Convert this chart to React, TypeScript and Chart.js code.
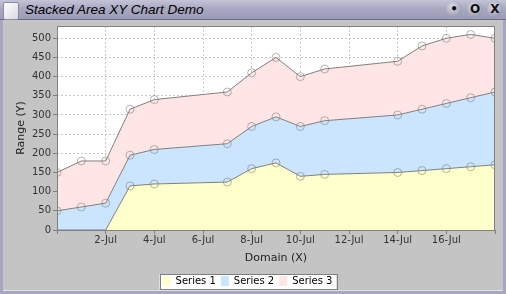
import React, { useEffect, useRef } from "react";
import { Chart, registerables } from "chart.js";

Chart.register(...registerables);

// x values: day of July (0 = 30-Jun)
const days = [0, 1, 2, 3, 4, 7, 8, 9, 10, 11, 14, 15, 16, 17, 18];
const series1 = [0, 0, 0, 115, 120, 125, 160, 175, 140, 145, 150, 155, 160, 165, 170];
const series2 = [50, 60, 70, 80, 90, 100, 110, 120, 130, 140, 150, 160, 170, 180, 190];
const series3 = [100, 120, 110, 120, 130, 135, 140, 155, 130, 135, 140, 165, 170, 165, 140];
const seriesNames = ["Series 1", "Series 2", "Series 3"];
const xTickDays = [2, 4, 6, 8, 10, 12, 14, 16];
const monthName = "Jul";
const windowTitle = "Stacked Area XY Chart Demo";
const xTitle = "Domain (X)";
const yTitle = "Range (Y)";

const fills = ["rgb(255,255,204)", "rgb(204,229,255)", "rgb(255,229,229)"];
const FONT = "'DejaVu Sans', sans-serif";

const plotFrame = {
  id: "plotFrame",
  beforeDraw(chart: any) {
    const { ctx, chartArea: a } = chart;
    ctx.save();
    ctx.fillStyle = "#ffffff";
    ctx.fillRect(a.left, a.top, a.right - a.left, a.bottom - a.top);
    // legend frame
    const hb = chart.legend && chart.legend.legendHitBoxes;
    if (hb && hb.length) {
      const l = Math.min(...hb.map((h: any) => h.left)) - 3;
      const r = Math.max(...hb.map((h: any) => h.left + h.width)) + 4;
      const t = Math.min(...hb.map((h: any) => h.top)) - 2;
      const b = Math.max(...hb.map((h: any) => h.top + h.height)) + 3;
      ctx.fillStyle = "#ffffff";
      ctx.fillRect(l, t, r - l, b - t);
      ctx.strokeStyle = "#808080";
      ctx.lineWidth = 1;
      ctx.strokeRect(Math.round(l) + 0.5, Math.round(t) + 0.5, Math.round(r - l), Math.round(b - t));
    }
    ctx.restore();
  },
  afterDraw(chart: any) {
    const { ctx, chartArea: a } = chart;
    ctx.save();
    ctx.strokeStyle = "#808080";
    ctx.lineWidth = 1;
    ctx.strokeRect(Math.round(a.left) + 0.5, Math.round(a.top) + 0.5, Math.round(a.right - a.left) - 1, Math.round(a.bottom - a.top));
    ctx.restore();
  },
};

function ChartView() {
  const ref = useRef<HTMLCanvasElement | null>(null);
  useEffect(() => {
    const canvas = ref.current;
    if (!canvas) return;
    const mk = (vals: number[]) => vals.map((v, i) => ({ x: days[i], y: v }));
    const allSeries = [series1, series2, series3];
    const chart = new Chart(canvas, {
      type: "line",
      data: {
        datasets: allSeries.map((s, i) => ({
          label: seriesNames[i],
          data: mk(s),
          backgroundColor: fills[i],
          borderColor: "#808080",
          borderWidth: 1,
          fill: i === 0 ? "origin" : "-1",
          tension: 0,
          pointRadius: (c: any) => (c.raw && c.raw.y === 0 ? 0 : 4),
          pointBackgroundColor: "rgba(0,0,0,0)",
          pointBorderColor: "rgba(120,120,120,0.55)",
          pointBorderWidth: 1,
        })),
      },
      options: {
        animation: false,
        responsive: false,
        maintainAspectRatio: false,
        events: [],
        layout: { padding: { top: 6, right: 11, bottom: 0, left: 0 } },
        plugins: {
          tooltip: { enabled: false },
          legend: {
            position: "bottom",
            labels: {
              font: { family: FONT, size: 10 },
              color: "#000",
              boxWidth: 8,
              boxHeight: 10,
              padding: 5,
              generateLabels: (ch: any) =>
                Chart.defaults.plugins.legend.labels.generateLabels(ch).map((it: any) => ({
                  ...it,
                  strokeStyle: it.fillStyle,
                  lineWidth: 0,
                })),
            },
          },
        },
        scales: {
          x: {
            type: "linear",
            min: 0,
            max: 18,
            afterFit: (s: any) => {
              s.height = 41;
            },
            ticks: {
              stepSize: 2,
              autoSkip: false,
              maxRotation: 0,
              padding: 0,
              font: { family: FONT, size: 10 },
              color: "#333",
              callback: (v: any) => (xTickDays.includes(Number(v)) ? `${v}-${monthName}` : ""),
            },
            grid: {
              color: "#c8c8c8",
              tickColor: "#808080",
              tickLength: 4,
              tickBorderDash: [],
            },
            border: { display: false, dash: [2, 2] },
            title: {
              display: true,
              text: xTitle,
              font: { family: FONT, size: 11 },
              color: "#222",
              padding: { top: 0, bottom: 6 },
            },
          },
          y: {
            type: "linear",
            stacked: true,
            min: 0,
            max: 532,
            afterFit: (s: any) => {
              s.width = 57;
              s.paddingTop = 0;
              s.paddingBottom = 0;
            },
            ticks: {
              stepSize: 50,
              includeBounds: false,
              padding: 2,
              font: { family: FONT, size: 10 },
              color: "#333",
            },
            grid: {
              color: "#c8c8c8",
              tickColor: "#808080",
              tickLength: 4,
              tickBorderDash: [],
            },
            border: { display: false, dash: [2, 2] },
            title: {
              display: true,
              text: yTitle,
              font: { family: FONT, size: 11 },
              color: "#222",
              padding: { top: 15, bottom: 0 },
            },
          },
        },
      },
      plugins: [plotFrame],
    } as any);
    return () => chart.destroy();
  }, []);
  return (
    <canvas
      ref={ref}
      width={506}
      height={276}
      style={{ position: "absolute", left: 0, top: 20, width: 506, height: 276 }}
    />
  );
}

function Btn({ left, children }: { left: number; children: any }) {
  return (
    <div
      style={{
        position: "absolute",
        left,
        top: 1,
        width: 16,
        height: 16,
        borderRadius: "50%",
        background: "radial-gradient(circle at 40% 35%, #dcdce8, #a4a4b8 65%, #84849a)",
        color: "#111",
        fontFamily: "'DejaVu Sans', sans-serif",
        fontSize: 12,
        fontWeight: "bold",
        lineHeight: "16px",
        textAlign: "center",
      }}
    >
      {children}
    </div>
  );
}

export default function App() {
  return (
    <div
      style={{
        position: "fixed",
        left: 0,
        top: 0,
        width: 506,
        height: 294,
        background: "#a6a6c0",
        overflow: "hidden",
      }}
    >
      <div
        style={{
          position: "absolute",
          left: 0,
          top: 0,
          width: 506,
          height: 19,
          background: "linear-gradient(to bottom, #c4c4d8 0%, #a8a8c2 45%, #9c9cb8 100%)",
          borderBottom: "1px solid #6e6e88",
        }}
      >
        <div
          style={{
            position: "absolute",
            left: 3,
            top: 2,
            width: 14,
            height: 16,
            background: "linear-gradient(135deg, #ffffff, #d8d8e0)",
            border: "1px solid #8a8aa0",
            borderRadius: 2,
          }}
        />
        <div
          style={{
            position: "absolute",
            left: 25,
            top: 1,
            fontFamily: "'Liberation Sans', sans-serif",
            fontStyle: "italic",
            fontSize: 13.5,
            lineHeight: "18px",
            color: "#000",
            whiteSpace: "nowrap",
          }}
        >
          {windowTitle}
        </div>
        <Btn left={446}>•</Btn>
        <Btn left={467}>O</Btn>
        <Btn left={487}>X</Btn>
      </div>
      <div
        style={{
          position: "absolute",
          left: 3,
          top: 20,
          width: 500,
          height: 270,
          background: "#c4c4c4",
          borderBottom: "1px solid #e0e0e8",
        }}
      />
      <ChartView />
    </div>
  );
}
